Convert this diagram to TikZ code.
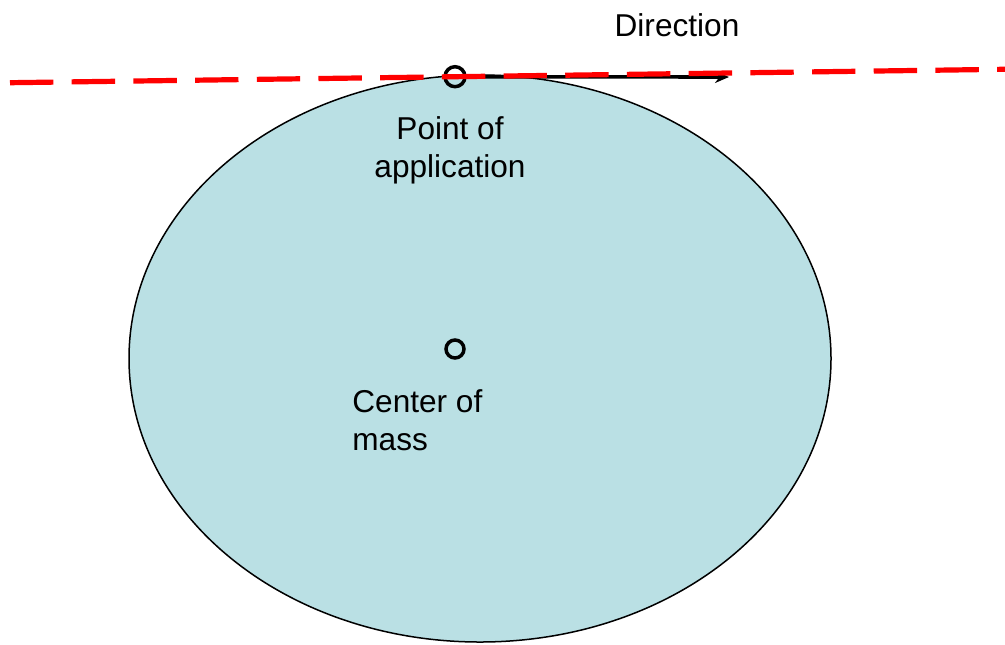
\documentclass[tikz,border=0pt]{standalone}
\usepackage{fontspec}
\setmainfont{Liberation Sans}
\usetikzlibrary{arrows.meta}
\definecolor{bodyblue}{RGB}{186,224,228}
\definecolor{linered}{RGB}{255,0,0}
\tikzset{
  label text/.style={font=\fontsize{15.8}{19}\selectfont, inner sep=0pt},
  marker/.style={line width=1.75pt}
}
\begin{document}
\begin{tikzpicture}[x=0.5pt,y=-0.5pt]
            \useasboundingbox (0,0) rectangle (1005,644);

            \coordinate (body) at (480,358.5);
            \coordinate (app) at (455,76.7);
            \coordinate (cm) at (455,349);
            \coordinate (tip) at (729,77);
            \coordinate (lstart) at (10,82.7);
            \coordinate (lend) at (1010,69.2);

            \filldraw[fill=bodyblue, draw=black, line width=0.75pt] (body) ellipse [x radius=351, y radius=283.5];

            \draw[line width=1.8pt, -{Stealth[length=7pt,width=6pt]}] (app) ++(10,0) -- (tip);

            \draw[marker] (app) circle (10);
            \draw[marker] (cm) circle (9);

            \draw[linered, line width=2.6pt, dash pattern=on 21.7pt off 9.15pt] (lstart) -- (lend);

            \node[label text, anchor=base] (dirlabel) at (677,36) {Direction};
            \node[label text, anchor=north, align=center] (applabel) at (450,116) {Point of\\application};
            \node[label text, anchor=north west, align=left] (cmlabel) at (352,389) {Center of\\mass};
        \end{tikzpicture}
\end{document}
